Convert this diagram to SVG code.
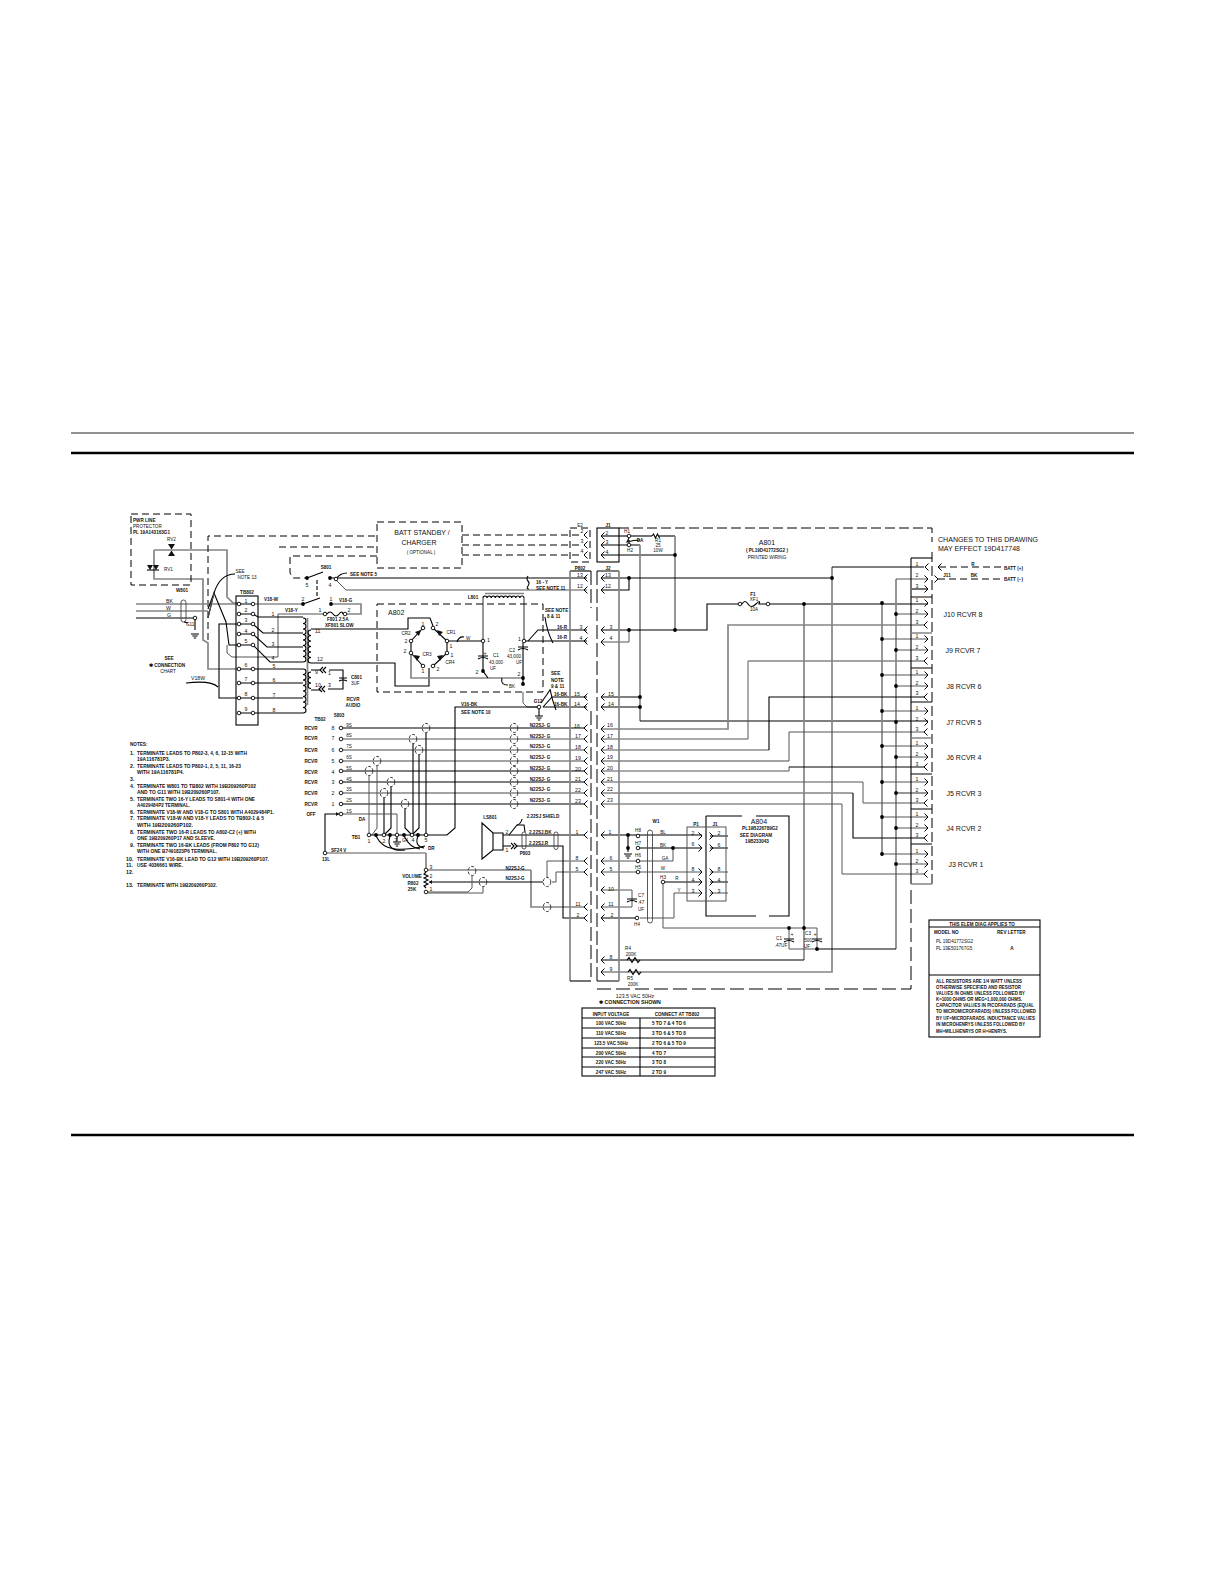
<svg xmlns="http://www.w3.org/2000/svg" width="1225" height="1585" viewBox="0 0 1225 1585">
<style>
text{font-family:"Liberation Sans",Arial,sans-serif;font-size:5.2px;fill:#111}
.m{text-anchor:middle}
.b{font-weight:700}
.s{font-size:4.6px}
.l{font-size:7px}
.n{font-size:5.2px}
.k{stroke:#000;stroke-width:1.1;fill:none}
.g{stroke:#858585;stroke-width:1.7;fill:none}
.h{stroke:#555;stroke-width:1;fill:none}
.d{stroke:#000;stroke-width:1;stroke-dasharray:7 4;fill:none}
.c{fill:#fff;stroke:#000;stroke-width:.9}
.o{fill:#000;stroke:none}
.e{fill:none;stroke:#222;stroke-width:.9;stroke-dasharray:3 1.6}
.w{fill:none;stroke:#444;stroke-width:.9}
.chev{fill:none;stroke:#000;stroke-width:1}
.f{fill:#111;stroke:none}
</style>
<defs>
<path id="cl" class="chev" d="M3.5 -3.5L0 0L3.5 3.5"/>
<path id="cr" class="chev" d="M-3.5 -3.5L0 0L-3.5 3.5"/>
<circle id="p" class="c" r="1.8"/>
<circle id="dot" class="o" r="1.9"/>
<g id="sh"><ellipse class="e" rx="3.8" ry="4.6"/></g>
<g id="gnd"><path class="k" d="M-4 0H4M-2.6 2H2.6M-1.2 4H1.2"/></g>
</defs>
<rect width="1225" height="1585" fill="#fff"/>
<g id="page-rules">
<line x1="71" y1="433" x2="1134" y2="433" stroke="#222" stroke-width="1"/>
<line x1="71" y1="453" x2="1134" y2="453" stroke="#000" stroke-width="2.6"/>
<line x1="71" y1="1135" x2="1134" y2="1135" stroke="#000" stroke-width="2.6"/>
</g>

<g id="connectors">
<path class="g" d="M154 550H227V597L233 603H239"/>
<path class="g" d="M154 550V579H203V640L208 643V669H238"/>
<path class="d" d="M208 640V536H377"/>
<path class="d" d="M279 547H377"/>
<path class="d" d="M377 556H290V573L293 578H307"/>
<path class="g" d="M136 604H239"/>
<path class="g" d="M136 611H208"/>
<path class="k" d="M136 618H195"/>
<path class="k" d="M195 618V630"/>
<path class="k" d="M208 609L214 593Q220 574 235 574"/>
<path class="k" d="M208 618L214 593L226 622L229 645H239"/>
<path class="h" d="M214 593L208 618M227 645V653L232 657H278V614H325"/>
<path class="k" d="M239 624H219V698H239"/>
<path class="k" d="M186 683Q211 680 218 687"/>
<path class="h" d="M253 604H303"/>
<path class="g" d="M331 604H361V614H345"/>
<path class="k" d="M253 614L258 617H303"/>
<path class="k" d="M253 624L263 633H303"/>
<path class="k" d="M253 634L267 647H303"/>
<path class="k" d="M253 645L270 662H303"/>
<path class="k" d="M253 669H303"/>
<path class="k" d="M253 683H303"/>
<path class="k" d="M253 698H303"/>
<path class="k" d="M253 713H303"/>
<path class="k" d="M311 629H408V618H430L433 626"/>
<path class="k" d="M311 663H395V686H429V668"/>
<path class="k" d="M311 670H321M329 670H343V689H328M311 690H320"/>
<path class="k" d="M336 578H587"/>
<path class="h" d="M336 580L346 590H587"/>
<path class="k" d="M336 579Q340 573 347 573"/>
<path class="d" d="M462 535H583"/>
<path class="d" d="M462 545H583"/>
<path class="d" d="M462 555H583"/>
<path class="g" d="M483 598V641"/>
<path class="g" d="M524 598V641"/>
<path class="g" d="M411 653V678H523"/>
<path class="k" d="M447 641H483"/>
<path class="k" d="M483 643V671L488 678"/>
<path class="k" d="M523 643V678"/>
<path class="k" d="M523 678V684"/>
<path class="h" d="M523 692V703L527 707H539"/>
<path class="k" d="M502 678Q500 685 508 685"/>
<path class="k" d="M523 641L532 641L587 641"/>
<path class="k" d="M528 641L538 630H587"/>
<path class="k" d="M545 617Q547 632 553 643"/>
<path class="k" d="M543 707L552 697H587"/>
<path class="k" d="M543 707H587"/>
<path class="k" d="M550 689Q552 700 556 710"/>
<path class="k" d="M541 703L550 690"/>
<path class="k" d="M601 536H629"/>
<path class="k" d="M601 545H640"/>
<path class="k" d="M601 555H675"/>
<path class="k" d="M631 536H652"/>
<path class="k" d="M659 536H675"/>
<path class="g" d="M675 536V630"/>
<path class="k" d="M629 538L627 542Q634 540 640 540M629 543V540"/>
<path class="g" d="M640 545V721"/>
<path class="k" d="M601 578H832"/>
<path class="k" d="M601 590H629V578"/>
<path class="k" d="M601 630H707V604H738"/>
<path class="h" d="M601 642H629V630"/>
<path class="k" d="M770 604H928"/>
<path class="k" d="M601 697H640"/>
<path class="k" d="M601 707H640"/>
<path class="k" d="M640 721H928"/>
<path class="g" d="M832 567V972H601"/>
<path class="k" d="M832 567H924"/>
<path class="g" d="M804 604V960"/>
<path class="g" d="M882 603V854"/>
<path class="g" d="M896 579V949"/>
<path class="k" d="M896 949H817"/>
<path class="h" d="M896 579H928"/>
<path class="g" d="M601 729H728V625H924"/>
<path class="h" d="M601 739H748V661"/>
<path class="g" d="M748 661H924"/>
<path class="h" d="M601 750H769"/>
<path class="k" d="M769 750V697H924"/>
<path class="g" d="M601 761H789"/>
<path class="h" d="M789 761V732H924"/>
<path class="h" d="M601 771H789V767"/>
<path class="k" d="M789 767H924"/>
<path class="h" d="M601 782H863V803H924"/>
<path class="g" d="M601 793H853"/>
<path class="k" d="M853 793V838H924"/>
<path class="h" d="M601 804H842V874H924"/>
<path class="h" d="M896 614H928M882 639H928M896 650H928M882 675H928M896 686H928M882 711H928M882 746H928M896 757H928M882 782H928M882 817H928M896 828H928M882 854H928M896 864H928"/>
<path class="g" d="M896 793H928"/>
<path class="k" d="M912 589H928"/>
<path class="d" d="M939 567H1002"/>
<path class="d" d="M938 579H1002"/>
<path class="k" d="M343 728H584"/>
<path class="h" d="M343 739H584"/>
<path class="g" d="M343 750H584"/>
<path class="g" d="M343 761H584"/>
<path class="k" d="M343 771H584"/>
<path class="k" d="M343 782H584"/>
<path class="g" d="M343 793H584"/>
<path class="k" d="M343 804H584"/>
<path class="k" d="M426 733V833"/>
<path class="k" d="M413 744V833"/>
<path class="k" d="M419 755V828L412 835"/>
<path class="h" d="M377 766V828L372 835"/>
<path class="h" d="M369 776V833"/>
<path class="k" d="M391 787V828L384 835"/>
<path class="k" d="M384 798V833"/>
<path class="k" d="M405 809V828L412 835"/>
<path class="h" d="M343 814H397V833"/>
<path class="k" d="M339 814H325V851"/>
<path class="k" d="M369 835H426"/>
<path class="k" d="M428 835H447L455 828V707H539"/>
<path class="k" d="M376 836Q382 848 395 849T425 846"/>
<path class="k" d="M390 836Q385 852 405 850"/>
<path class="k" d="M404 836Q410 848 420 849"/>
<path class="k" d="M418 836Q414 846 424 848"/>
<path class="h" d="M327 853H426"/>
<path class="g" d="M426 853V868"/>
<path class="g" d="M428 870H531"/>
<path class="g" d="M531 870V907H584"/>
<path class="k" d="M429 882H543"/>
<path class="h" d="M472 876V888L468 892H428"/>
<path class="h" d="M483 887V893H428"/>
<path class="h" d="M547 877V861H584"/>
<path class="h" d="M552 882H556V872H584"/>
<path class="k" d="M503 835H584"/>
<path class="k" d="M503 846H511M516 846H563V918H584"/>
<path class="k" d="M509 835L517 825H524L525 832"/>
<path class="k" d="M522 819Q521 824 517 825"/>
<path class="k" d="M601 835H702"/>
<path class="k" d="M628 835V852"/>
<path class="k" d="M638 848H702"/>
<path class="h" d="M601 861H673V848"/>
<path class="h" d="M601 872H702"/>
<path class="k" d="M665 882H702"/>
<path class="h" d="M663 884V928H804"/>
<path class="h" d="M702 893H674V918H640"/>
<path class="k" d="M601 918H636"/>
<path class="h" d="M601 890H632V907H601"/>
<path class="k" d="M710 836H728M710 848H728M710 882H728"/>
<path class="h" d="M710 872H728M710 893H728"/>
<path class="h" d="M789 928V949H817V928H804"/>
<path class="k" d="M601 960H804"/>
</g>

<g id="pwr-line-protector">
<rect class="d" x="131" y="514" width="60" height="71"/>
<text x="133" y="521.500" class="b s">PWR LINE</text>
<text x="133" y="527.500" class="s">PROTECTOR</text>
<text x="133" y="534" class="b s">PL 19A143163G1</text>
<text x="167" y="541" class="s">RV2</text>
<text x="164" y="571" class="s">RV1</text>
<path class="f" d="M168 544h7l-3.500 5.500zM168 556h7l-3.500 -5.500z"/>
<path class="f" d="M147 565h6l-3 5zM153 565h6l-3 5z"/>
<path class="k" d="M147 570H159"/>
</g>

<g id="w801">
<text x="176" y="592" class="b s">W801</text>
<text x="166" y="603">BK</text>
<text x="166" y="609.500">W</text>
<text x="167" y="616.500">G</text>
<rect x="181" y="600" width="5" height="22" rx="2.500" class="w"/>
<text x="186" y="625.500" class="s">G11</text>
<path class="k" d="M184 622L188 623"/>
<use href="#p" x="195" y="618"/>
<use href="#gnd" x="195" y="634"/>
<text x="240" y="572.500" class="m s">SEE</text>
<text x="247" y="579" class="m s">NOTE 13</text>
<text x="169" y="660" class="m s b">SEE</text>
<text x="167" y="667" class="m s b">✱ CONNECTION</text>
<text x="168" y="673" class="m s">CHART</text>
<text x="191" y="680">V18W</text>
</g>

<g id="tb802">
<rect x="236" y="596" width="22" height="129" class="k"/>
<text x="247" y="594" class="m b s">TB802</text>
<path class="k" d="M239 604h14M239 614h14M239 624h14M239 634h14M239 645h14M239 669h14M239 683h14M239 698h14M239 713h14"/>
<g><use href="#p" x="239" y="604"/><use href="#p" x="253" y="604"/><use href="#p" x="239" y="614"/><use href="#p" x="253" y="614"/><use href="#p" x="239" y="624"/><use href="#p" x="253" y="624"/><use href="#p" x="239" y="634"/><use href="#p" x="253" y="634"/><use href="#p" x="239" y="645"/><use href="#p" x="253" y="645"/><use href="#p" x="239" y="669"/><use href="#p" x="253" y="669"/><use href="#p" x="239" y="683"/><use href="#p" x="253" y="683"/><use href="#p" x="239" y="698"/><use href="#p" x="253" y="698"/><use href="#p" x="239" y="713"/><use href="#p" x="253" y="713"/></g>
<text x="246" y="603" class="m">1</text><text x="246" y="612" class="m">2</text><text x="246" y="622" class="m">3</text><text x="246" y="633" class="m">4</text><text x="246" y="643" class="m">5</text><text x="246" y="667" class="m">6</text><text x="246" y="681" class="m">7</text><text x="246" y="696" class="m">8</text><text x="246" y="711" class="m">9</text>
<text x="264" y="600.500" class="b s">V18-W</text>
<text x="285" y="611.500" class="b s">V18-Y</text>
<text x="273" y="616" class="m">1</text><text x="273" y="632" class="m">2</text><text x="273" y="646" class="m">3</text><text x="273" y="660" class="m">4</text><text x="274" y="668" class="m">5</text><text x="274" y="682" class="m">6</text><text x="274" y="697" class="m">7</text><text x="274" y="712" class="m">8</text>
</g>

<g id="t801">
<path class="k" d="M303 618a3 2.750 0 0 1 0 5.500a3 2.750 0 0 1 0 5.500a3 2.750 0 0 1 0 5.500a3 2.750 0 0 1 0 5.500a3 2.750 0 0 1 0 5.500a3 2.750 0 0 1 0 5.500a3 2.750 0 0 1 0 5.500a3 2.750 0 0 1 0 5.500"/>
<path class="k" d="M303 669a3 2.750 0 0 1 0 5.500a3 2.750 0 0 1 0 5.500a3 2.750 0 0 1 0 5.500a3 2.750 0 0 1 0 5.500a3 2.750 0 0 1 0 5.500a3 2.750 0 0 1 0 5.500a3 2.750 0 0 1 0 5.500a3 2.750 0 0 1 0 5.500"/>
<path class="g" d="M307.500 618V705"/>
<path class="k" d="M311 630a3 2.750 0 0 0 0 5.500a3 2.750 0 0 0 0 5.500a3 2.750 0 0 0 0 5.500a3 2.750 0 0 0 0 5.500a3 2.750 0 0 0 0 5.500a3 2.750 0 0 0 0 5.500"/>
<path class="k" d="M311 672a3 2.750 0 0 0 0 5.500a3 2.750 0 0 0 0 5.500a3 2.750 0 0 0 0 5.500"/>
<text x="315" y="633">11</text><text x="317" y="661">12</text><text x="315" y="674">9</text><text x="315" y="687">10</text>
<text x="328" y="675">1</text><text x="328" y="687">3</text>
<path class="k" d="M323 667l-3 3 3 3M326 667l-3 3 3 3M322 686l-3 3 3 3M325 686l-3 3 3 3"/>
<path class="k" d="M339 678H347M339 681Q343 679 347 681"/>
<text x="351" y="679" class="s b">C801</text><text x="351" y="685" class="s">3UF</text>
<text x="353" y="701" class="m s b">RCVR</text><text x="353" y="707" class="m s b">AUDIO</text>
</g>

<g id="s801">
<use href="#dot" x="307" y="578"/><use href="#dot" x="330" y="578"/>
<path class="k" d="M307 578L323 572M330 578H336"/>
<path class="k" d="M317 580V597" stroke-dasharray="4 2"/>
<use href="#dot" x="303" y="604"/><use href="#dot" x="331" y="604"/>
<path class="k" d="M303 604L320 598"/>
<use href="#p" x="336" y="579"/>
<text x="326" y="569" class="m b s">S801</text>
<text x="307" y="586.500" class="m">5</text><text x="330" y="586.500" class="m">4</text><text x="303" y="600.500" class="m">2</text><text x="331" y="600.500" class="m">1</text>
<text x="350" y="575.500" class="b s">SEE NOTE 5</text>
<text x="339" y="602" class="b s">V18-G</text>
<use href="#p" x="325" y="614"/><use href="#p" x="345" y="614"/>
<path class="k" d="M327 614q3 -4 6 0t6 0 4 0"/>
<text x="320" y="611.500" class="m">1</text><text x="349" y="611.500" class="m">2</text>
<text x="327" y="620.500" class="s b">F801 2.5A</text>
<text x="325" y="627" class="s b">XF801 SLOW</text>
</g>

<g id="batt-standby">
<rect class="d" x="377" y="522" width="85" height="46"/>
<text x="422" y="535" class="m l">BATT  STANDBY /</text>
<text x="419" y="544.500" class="m l">CHARGER</text>
<text x="421" y="553.500" class="m s">( OPTIONAL )</text>
</g>

<g id="a802">
<rect class="d" x="377" y="604" width="166" height="88"/>
<text x="388" y="614.500" class="l">A802</text>
<path class="k" d="M433 628L447 641V653L433 666M423 666L411 653V641L423 628"/>
<use href="#p" x="423" y="628"/><use href="#p" x="433" y="628"/><use href="#p" x="447" y="641"/><use href="#p" x="447" y="653"/><use href="#p" x="433" y="666"/><use href="#p" x="423" y="666"/><use href="#p" x="411" y="653"/><use href="#p" x="411" y="641"/>
<path class="f" d="M437 630l6 2-4 4zM421 630l-6 2 4 4zM414 655l6 1-3 5zM443 655l-6 1 3 5z"/>
<text x="406" y="635" class="m s">CR2</text><text x="451" y="634" class="m s">CR1</text><text x="427" y="656" class="m s">CR3</text><text x="450" y="664" class="m s">CR4</text>
<text x="423" y="626" class="m">1</text><text x="437" y="626" class="m">2</text><text x="406" y="642.500" class="m">2</text><text x="451" y="648" class="m">1</text><text x="405" y="653" class="m">2</text><text x="452" y="657" class="m">1</text><text x="423" y="673" class="m">1</text><text x="438" y="670.500" class="m">2</text>
<use href="#p" x="483" y="641"/><use href="#p" x="524" y="641"/>
<text x="487" y="642">1</text><text x="518" y="641">1</text>
<text x="466" y="640" class="s">W</text>
<path class="k" d="M457 642Q459 636 464 637"/>
<path class="k" d="M478 656H488M478 659Q483 656 488 659"/>
<text x="485" y="655" class="m">+</text>
<text x="493" y="657" class="s">C1</text><text x="489" y="663.500" class="s">43,000</text><text x="490" y="670" class="s">UF</text>
<use href="#dot" x="483" y="671"/><text x="477" y="674" class="m">2</text>
<path class="k" d="M518 647H528M518 650Q523 647 528 650"/>
<text x="512" y="652" class="m s">C2</text><text x="514" y="657.500" class="m s">43,000</text><text x="519" y="663.500" class="m s">UF</text>
<text x="519" y="676" class="m">2</text>
<use href="#dot" x="523" y="678"/><use href="#dot" x="523" y="684"/>
<text x="509" y="687.500" class="s">BK</text>
<text x="473" y="598.500" class="m s b">L801</text>
<path class="k" d="M483 598a2.050 2.050 0 0 1 4.100 0a2.050 2.050 0 0 1 4.100 0a2.050 2.050 0 0 1 4.100 0a2.050 2.050 0 0 1 4.100 0a2.050 2.050 0 0 1 4.100 0a2.050 2.050 0 0 1 4.100 0a2.050 2.050 0 0 1 4.100 0a2.050 2.050 0 0 1 4.100 0a2.050 2.050 0 0 1 4.100 0a2.050 2.050 0 0 1 4.100 0"/>
<path class="g" d="M485 593.500H524"/>
</g>

<g id="wire-labels">
<path class="k" d="M528 576q-2 3 0 5t0 5 1 3"/>
<text x="536" y="583.500" class="s b">16 - Y</text>
<text x="536" y="589.500" class="s b">SEE NOTE 11</text>
<text x="545" y="611.500" class="s b">SEE NOTE</text>
<text x="547" y="617.500" class="s b">8 &amp; 11</text>
<text x="557" y="629" class="s b">16-R</text>
<text x="557" y="639" class="s b">16-R</text>
<text x="551" y="675" class="s b">SEE</text><text x="551" y="681.500" class="s b">NOTE</text><text x="551" y="688" class="s b">9 &amp; 11</text>
<text x="554" y="695.500" class="s b">16-BK</text>
<text x="554" y="705.500" class="s b">16-BK</text>
<text x="461" y="705.500" class="s b">V16-BK</text>
<text x="461" y="713.500" class="s b">SEE NOTE 10</text>
<text x="538" y="703" class="m s b">G12</text>
<use href="#p" x="539" y="707"/>
<path class="k" d="M539 709V716"/>
<use href="#gnd" x="539" y="716"/>
</g>

<g id="e2">
<rect class="d" x="570" y="528" width="20" height="34"/>
<text x="580" y="527" class="m s">E2</text>
<use href="#cl" x="584" y="535"/><use href="#cl" x="584" y="545"/><use href="#cl" x="584" y="555"/>
<text x="582" y="533" class="m">2</text><text x="582" y="543" class="m">3</text><text x="582" y="553" class="m">4</text>
</g>

<g id="p802">
<path class="k" d="M570 571H591"/>
<path class="g" d="M570 571V981"/>
<path class="k" d="M570 981H591"/>
<path class="d" d="M591 571V608M591 711V981" style="stroke-dasharray:14 4"/>
<text x="580" y="569.500" class="m s b">P802</text>
<g>
<use href="#cl" x="584" y="578"/><use href="#cl" x="584" y="590"/><use href="#cl" x="584" y="630"/><use href="#cl" x="584" y="641"/><use href="#cl" x="584" y="697"/><use href="#cl" x="584" y="707"/><use href="#cl" x="584" y="728"/><use href="#cl" x="584" y="739"/><use href="#cl" x="584" y="750"/><use href="#cl" x="584" y="761"/><use href="#cl" x="584" y="771"/><use href="#cl" x="584" y="782"/><use href="#cl" x="584" y="793"/><use href="#cl" x="584" y="804"/><use href="#cl" x="584" y="835"/><use href="#cl" x="584" y="861"/><use href="#cl" x="584" y="872"/><use href="#cl" x="584" y="907"/><use href="#cl" x="584" y="918"/>
</g>
<text x="580" y="577" class="m">13</text><text x="580" y="588" class="m">12</text><text x="581" y="629" class="m">3</text><text x="581" y="640" class="m">4</text><text x="577" y="695.500" class="m">15</text><text x="577" y="705.500" class="m">14</text><text x="577" y="728" class="m">16</text><text x="578" y="738" class="m">17</text><text x="578" y="749" class="m">18</text><text x="578" y="760" class="m">19</text><text x="578" y="771" class="m">20</text><text x="578" y="781" class="m">21</text><text x="578" y="792" class="m">22</text><text x="578" y="803" class="m">23</text><text x="577" y="834" class="m">1</text><text x="577" y="860" class="m">8</text><text x="577" y="871" class="m">5</text><text x="578" y="906" class="m">11</text><text x="578" y="917" class="m">2</text>
</g>

<g id="j1">
<rect x="597" y="528" width="22" height="34" class="k"/>
<text x="608" y="527" class="m s b">J1</text>
<use href="#cl" x="601" y="536"/><use href="#cl" x="601" y="545"/><use href="#cl" x="601" y="555"/>
<text x="607" y="535" class="m">2</text><text x="607" y="544" class="m">3</text><text x="607" y="554" class="m">4</text>
<use href="#p" x="629" y="536"/><use href="#p" x="629" y="545"/>
<text x="627" y="533" class="m s">H1</text><text x="630" y="551.500" class="m s">H2</text><text x="640" y="542" class="m s b">DA</text>
<path class="k" d="M652 536l1.500 -2 2 4 2 -4 2 4"/>
<text x="658" y="542" class="m s">R1</text><text x="658" y="547" class="m s">25</text><text x="658" y="552" class="m s">10W</text>
</g>

<g id="j2">
<path class="k" d="M597 571H619M597 981H619"/>
<path class="g" d="M619 571V981"/>
<path class="d" d="M597 571V981" style="stroke-dasharray:14 4"/>
<text x="608" y="569.500" class="m s b">J2</text>
<g>
<use href="#cl" x="601" y="578"/><use href="#cl" x="601" y="590"/><use href="#cl" x="601" y="630"/><use href="#cl" x="601" y="642"/><use href="#cl" x="601" y="697"/><use href="#cl" x="601" y="707"/><use href="#cl" x="601" y="729"/><use href="#cl" x="601" y="739"/><use href="#cl" x="601" y="750"/><use href="#cl" x="601" y="761"/><use href="#cl" x="601" y="771"/><use href="#cl" x="601" y="782"/><use href="#cl" x="601" y="793"/><use href="#cl" x="601" y="804"/><use href="#cl" x="601" y="835"/><use href="#cl" x="601" y="861"/><use href="#cl" x="601" y="872"/><use href="#cl" x="601" y="890"/><use href="#cl" x="601" y="907"/><use href="#cl" x="601" y="918"/><use href="#cl" x="601" y="960"/><use href="#cl" x="601" y="972"/>
</g>
<g>
<text x="608" y="577" class="m">13</text><text x="608" y="588" class="m">12</text><text x="611" y="629" class="m">3</text><text x="611" y="640" class="m">4</text><text x="611" y="695.500" class="m">15</text><text x="611" y="705.500" class="m">14</text><text x="610" y="727" class="m">16</text><text x="610" y="738" class="m">17</text><text x="610" y="749" class="m">18</text><text x="610" y="759" class="m">19</text><text x="610" y="770" class="m">20</text><text x="610" y="781" class="m">21</text><text x="610" y="791" class="m">22</text><text x="610" y="802" class="m">23</text><text x="610" y="834" class="m">1</text><text x="611" y="860" class="m">6</text><text x="611" y="871" class="m">5</text><text x="611" y="891" class="m">10</text><text x="611" y="906" class="m">11</text><text x="612" y="917" class="m">2</text><text x="611" y="959" class="m">8</text><text x="611" y="971" class="m">9</text>
</g>
<g><use href="#dot" x="629" y="578"/><use href="#dot" x="629" y="630"/><use href="#dot" x="675" y="555"/><use href="#dot" x="675" y="630"/><use href="#dot" x="640" y="697"/><use href="#dot" x="640" y="707"/><use href="#dot" x="832" y="578"/><use href="#dot" x="804" y="604"/></g>
</g>

<g id="a801-boundary">
<path class="d" d="M619 528H932V542M932 552V884" style="stroke-dasharray:10 4"/>
<path class="d" d="M597 989H911V887" style="stroke-dasharray:14 5"/>
<text x="767" y="544.500" class="m l">A801</text>
<text x="767" y="552" class="m s b">( PL19D41772SG2 )</text>
<text x="767" y="559" class="m s">PRINTED WIRING</text>
</g>

<g id="f1">
<use href="#p" x="740" y="604"/><use href="#p" x="768" y="604"/>
<path class="k" d="M742 604q3 -5 6 0t8 0 3 0h7"/>
<text x="753" y="596" class="m s b">F1</text><text x="754" y="601" class="m s">XF1</text><text x="754" y="611" class="m s">10A</text>
</g>

<g id="connector-column">
<path class="k" d="M911 558V884"/>
<path class="k" d="M911 558H932"/>
<path class="k" d="M911 597H932M911 668H932M911 702H932M911 774H932M911 809H932M911 844H932"/>
<path class="g" d="M911 633H932M911 738H932M911 884H932"/>
<g>
<use href="#cl" x="925" y="567"/><use href="#cr" x="928" y="579"/><use href="#cr" x="928" y="589"/>
<use href="#cr" x="928" y="603"/><use href="#cr" x="928" y="614"/><use href="#cl" x="924" y="625"/>
<use href="#cr" x="928" y="639"/><use href="#cr" x="928" y="650"/><use href="#cl" x="924" y="661"/>
<use href="#cr" x="928" y="675"/><use href="#cr" x="928" y="686"/><use href="#cl" x="924" y="697"/>
<use href="#cr" x="928" y="711"/><use href="#cr" x="928" y="722"/><use href="#cl" x="924" y="732"/>
<use href="#cr" x="928" y="746"/><use href="#cr" x="928" y="757"/><use href="#cl" x="924" y="767"/>
<use href="#cr" x="928" y="782"/><use href="#cr" x="928" y="793"/><use href="#cl" x="924" y="803"/>
<use href="#cr" x="928" y="817"/><use href="#cr" x="928" y="828"/><use href="#cl" x="924" y="838"/>
<use href="#cr" x="928" y="854"/><use href="#cr" x="928" y="864"/><use href="#cl" x="924" y="874"/>
</g>
<g>
<text x="917" y="566" class="m">1</text><text x="917" y="577" class="m">2</text><text x="917" y="588" class="m">3</text>
<text x="917" y="602" class="m">1</text><text x="917" y="613" class="m">2</text><text x="917" y="624" class="m">3</text>
<text x="917" y="638" class="m">1</text><text x="917" y="649" class="m">2</text><text x="917" y="660" class="m">3</text>
<text x="917" y="674" class="m">1</text><text x="917" y="685" class="m">2</text><text x="917" y="695" class="m">3</text>
<text x="917" y="710" class="m">1</text><text x="917" y="721" class="m">2</text><text x="917" y="731" class="m">3</text>
<text x="917" y="745" class="m">1</text><text x="917" y="756" class="m">2</text><text x="917" y="766" class="m">3</text>
<text x="917" y="781" class="m">1</text><text x="917" y="792" class="m">2</text><text x="917" y="802" class="m">3</text>
<text x="917" y="816" class="m">1</text><text x="917" y="827" class="m">2</text><text x="917" y="837" class="m">3</text>
<text x="917" y="853" class="m">1</text><text x="917" y="863" class="m">2</text><text x="917" y="873" class="m">3</text>
</g>
<g>
<use href="#dot" x="882" y="603"/><use href="#dot" x="896" y="614"/><use href="#dot" x="882" y="639"/><use href="#dot" x="896" y="650"/><use href="#dot" x="882" y="675"/><use href="#dot" x="896" y="686"/><use href="#dot" x="882" y="711"/><use href="#dot" x="896" y="722"/><use href="#dot" x="882" y="746"/><use href="#dot" x="896" y="757"/><use href="#dot" x="882" y="782"/><use href="#dot" x="896" y="793"/><use href="#dot" x="882" y="817"/><use href="#dot" x="896" y="828"/><use href="#dot" x="882" y="854"/><use href="#dot" x="896" y="864"/>
</g>
<text x="963" y="617" class="m l">J10  RCVR  8</text>
<text x="963" y="653" class="m l">J9  RCVR  7</text>
<text x="964" y="689" class="m l">J8  RCVR  6</text>
<text x="964" y="725" class="m l">J7  RCVR  5</text>
<text x="964" y="759.500" class="m l">J6  RCVR  4</text>
<text x="964" y="796" class="m l">J5  RCVR  3</text>
<text x="964" y="831" class="m l">J4  RCVR  2</text>
<text x="966" y="867" class="m l">J3  RCVR  1</text>
<use href="#cl" x="938" y="567"/><use href="#cr" x="938" y="579"/>
<text x="973" y="566" class="m s b">R</text>
<text x="947" y="577" class="m s b">J11</text><text x="974" y="577" class="m s b">BK</text>
<text x="1004" y="569.500" class="s b">BATT (+)</text>
<text x="1004" y="580.500" class="s b">BATT (−)</text>
<text x="938" y="541.500" class="l" textLength="100" lengthAdjust="spacingAndGlyphs">CHANGES TO THIS DRAWING</text>
<text x="938" y="551" class="l" textLength="82" lengthAdjust="spacingAndGlyphs">MAY EFFECT 19D417748</text>
</g>

<g id="receiver-switch">
<text x="339" y="716.500" class="m s b">S803</text><text x="320" y="721" class="m s b">TB02</text>
<g>
<text x="311" y="730" class="m b s">RCVR</text><text x="311" y="740" class="m b s">RCVR</text><text x="311" y="752" class="m b s">RCVR</text><text x="311" y="763" class="m b s">RCVR</text><text x="311" y="774" class="m b s">RCVR</text><text x="311" y="784" class="m b s">RCVR</text><text x="311" y="795" class="m b s">RCVR</text><text x="311" y="806" class="m b s">RCVR</text><text x="311" y="816" class="m b s">OFF</text>
<text x="333" y="730" class="m">8</text><text x="333" y="740" class="m">7</text><text x="333" y="752" class="m">6</text><text x="333" y="763" class="m">5</text><text x="333" y="774" class="m">4</text><text x="333" y="784" class="m">3</text><text x="333" y="795" class="m">2</text><text x="333" y="806" class="m">1</text>
<text x="349" y="727" class="m s">9S</text><text x="349" y="737" class="m s">8S</text><text x="349" y="748" class="m s">7S</text><text x="349" y="759" class="m s">6S</text><text x="349" y="770" class="m s">5S</text><text x="349" y="781" class="m s">4S</text><text x="349" y="791" class="m s">3S</text><text x="349" y="802" class="m s">2S</text><text x="349" y="812.500" class="m s">1S</text>
</g>
<use href="#p" x="341" y="728"/><use href="#p" x="341" y="739"/><use href="#p" x="341" y="750"/><use href="#p" x="341" y="761"/><use href="#p" x="341" y="771"/><use href="#p" x="341" y="782"/><use href="#p" x="341" y="793"/><use href="#p" x="341" y="804"/><use href="#p" x="341" y="814"/>
<path class="f" d="M336 812l3 2-3 2z"/>
<g id="shields">
<use href="#sh" x="426" y="728"/><use href="#sh" x="413" y="739"/><use href="#sh" x="419" y="750"/><use href="#sh" x="377" y="761"/><use href="#sh" x="369" y="771"/><use href="#sh" x="391" y="782"/><use href="#sh" x="384" y="793"/><use href="#sh" x="405" y="804"/>
<use href="#sh" x="514" y="728"/><use href="#sh" x="514" y="739"/><use href="#sh" x="514" y="750"/><use href="#sh" x="514" y="761"/><use href="#sh" x="514" y="771"/><use href="#sh" x="514" y="782"/><use href="#sh" x="514" y="793"/><use href="#sh" x="514" y="804"/>
<use href="#sh" x="472" y="871"/><use href="#sh" x="483" y="882"/><use href="#sh" x="547" y="882"/><use href="#sh" x="547" y="907"/>
</g>
<g>
<text x="540" y="727" class="m s b">N22SJ- G</text><text x="540" y="738" class="m s b">N22SJ- G</text><text x="540" y="748" class="m s b">N22SJ- G</text><text x="540" y="759" class="m s b">N22SJ- G</text><text x="540" y="770" class="m s b">N22SJ- G</text><text x="540" y="781" class="m s b">N22SJ- G</text><text x="540" y="791" class="m s b">N22SJ- G</text><text x="540" y="802" class="m s b">N22SJ- G</text>
</g>
</g>

<g id="tb1">
<use href="#p" x="369" y="835"/><use href="#p" x="384" y="835"/><use href="#p" x="397" y="835"/><use href="#p" x="412" y="835"/><use href="#p" x="426" y="835"/>
<use href="#dot" x="376" y="835"/><use href="#dot" x="390" y="835"/><use href="#dot" x="404" y="835"/><use href="#dot" x="418" y="835"/>
<text x="356" y="838.500" class="m s b">TB1</text>
<text x="369" y="842.500" class="m">1</text><text x="384" y="842.500" class="m">2</text><text x="396" y="842" class="m">3</text><text x="413" y="842" class="m">4</text><text x="426" y="842" class="m">5</text>
<text x="402" y="842" class="s">G4</text>
<path class="k" d="M397 837V841"/><use href="#gnd" x="397" y="842"/>
<text x="362" y="821" class="m s b">DA</text>
<text x="428" y="850" class="s b">DR</text>
<use href="#p" x="325" y="853"/>
<text x="326" y="861" class="m s b">13L</text>
<text x="331" y="852" class="s b">SF24 V</text>
</g>

<g id="r802">
<use href="#p" x="426" y="870"/><use href="#p" x="426" y="892"/>
<path class="k" d="M426 872l-2 2 4 2 -4 2 4 2 -4 2 4 2 -4 2 2 2"/>
<path class="f" d="M429 882l3 -2v4z"/>
<text x="431" y="868.500" class="m">3</text><text x="431" y="878" class="m">2</text><text x="431" y="891" class="m">1</text>
<text x="412" y="878" class="m s b">VOLUME</text><text x="413" y="884.500" class="m s b">R802</text><text x="412" y="891" class="m s b">25K</text>
<text x="515" y="870" class="m s b">N22SJ-G</text><text x="515" y="880" class="m s b">N22SJ-G</text>
</g>

<g id="ls801">
<path class="k" d="M482 823L493 833H503V850H493L482 859Z"/>
<path class="k" d="M493 833V850"/>
<text x="490" y="818.500" class="m s b">LS801</text>
<text x="507" y="834" class="m">2</text><text x="507" y="852" class="m">1</text>
<path class="k" d="M511 843l3 3-3 3M514 843l3 3-3 3"/>
<rect x="522" y="832" width="4" height="17" rx="2" class="w"/>
<rect x="554" y="832" width="4" height="17.500" rx="2" class="w"/>
<text x="543" y="818" class="m s b">2.22SJ SHIELD</text>
<text x="529" y="834" class="s b">2.22SJ.BK</text>
<text x="529" y="844.500" class="s b">2.22SJ.R</text>
<text x="525" y="854.500" class="m s b">P803</text>
</g>

<g id="a804">
<path class="k" d="M706 816H742M756 816H789V916H769M756 916H706V816"/>
<rect x="687" y="827" width="39" height="74" class="h"/>
<text x="696" y="826" class="m s b">P1</text><text x="715" y="826" class="m s b">J1</text>
<text x="759" y="824" class="m l">A804</text>
<text x="760" y="830" class="m s b">PL19B226789G2</text>
<text x="756" y="837" class="m s b">SEE DIAGRAM</text>
<text x="757" y="843" class="m s b">19B233043</text>
<g>
<use href="#cr" x="702" y="836"/><use href="#cr" x="702" y="848"/><use href="#cr" x="702" y="872"/><use href="#cr" x="702" y="882"/><use href="#cr" x="702" y="893"/>
<use href="#cr" x="713" y="836"/><use href="#cr" x="713" y="848"/><use href="#cr" x="713" y="872"/><use href="#cr" x="713" y="882"/><use href="#cr" x="713" y="893"/>
</g>
<text x="693" y="835" class="m">2</text><text x="693" y="846" class="m">6</text><text x="693" y="871" class="m">8</text><text x="693" y="882" class="m">4</text><text x="693" y="893" class="m">3</text>
<text x="719" y="835" class="m">2</text><text x="719" y="847" class="m">6</text><text x="719" y="871" class="m">8</text><text x="719" y="882" class="m">4</text><text x="719" y="893" class="m">3</text>
<rect x="647.500" y="830" width="5" height="93" rx="2.500" class="w"/>
<text x="656" y="823" class="m s b">W1</text>
<use href="#p" x="638" y="836"/><use href="#p" x="638" y="848"/><use href="#p" x="638" y="861"/><use href="#p" x="638" y="872"/><use href="#p" x="663" y="882"/><use href="#p" x="637" y="918"/>
<text x="638" y="832" class="m s">H8</text><text x="638" y="844.500" class="m s">H7</text><text x="638" y="857" class="m s">H6</text><text x="638" y="868.500" class="m s">H5</text><text x="663" y="879" class="m s">H3</text><text x="637" y="925.500" class="m s">H4</text>
<text x="663" y="834" class="m s">BL</text><text x="663" y="847" class="m s">BK</text><text x="665" y="860" class="m s">GA</text><text x="663" y="870" class="m s">W</text><text x="677" y="880" class="m s">R</text><text x="679" y="891.500" class="m s">Y</text>
<use href="#dot" x="628" y="835"/><use href="#dot" x="628" y="848"/><use href="#dot" x="673" y="848"/>
<use href="#gnd" x="628" y="854"/>
<path class="k" d="M627 899H637M627 902Q632 899 637 902"/>
<text x="641" y="897" class="m s">C7</text><text x="641" y="904" class="m s">.47</text><text x="641" y="910.500" class="m s">UF</text>
<use href="#dot" x="789" y="928"/><use href="#dot" x="804" y="928"/><use href="#dot" x="817" y="949"/>
<path class="k" d="M784 939H794M784 942Q789 939 794 942"/>
<path class="k" d="M812 939H822M812 942Q817 939 822 942"/>
<text x="792" y="936" class="m">+</text><text x="815" y="936" class="m">+</text>
<text x="779" y="940" class="m s">C1</text><text x="781" y="947" class="m s">.47UF</text><text x="808" y="935" class="m s">C3</text><text x="808" y="942" class="m s">500</text><text x="807" y="948" class="m s">UF</text>
<path class="k" d="M627 960l2 -2.500 3 5 3 -5 3 5 2 -2.500"/>
<path class="k" d="M628 972l2 -2.500 3 5 3 -5 3 5 2 -2.500"/>
<text x="628" y="950" class="m s">R4</text><text x="631" y="956" class="m s">200K</text>
<text x="630" y="980" class="m s">R5</text><text x="633" y="986" class="m s">200K</text>
</g>

<g id="voltage-table">
<text x="635" y="998" class="m n">123.5   VAC   50Hz</text>
<text x="630" y="1004" class="m n b">✱  CONNECTION SHOWN</text>
<rect x="582" y="1008" width="133" height="68" class="k"/>
<path class="k" d="M582 1018H715"/>
<path class="k" d="M582 1028H715M582 1038H715M582 1048H715M582 1057H715M582 1067H715"/>
<path class="k" d="M640 1018V1076"/>
<text x="611" y="1015.500" class="m s b">INPUT VOLTAGE</text><text x="677" y="1015.500" class="m s b">CONNECT AT TB802</text>
<text x="611" y="1025" class="m s b">100    VAC  50Hz</text><text x="652" y="1025" class="s b">5 TO 7 &amp; 4 TO 6</text>
<text x="611" y="1035" class="m s b">110    VAC  50Hz</text><text x="652" y="1035" class="s b">3 TO 6 &amp; 5 TO 8</text>
<text x="611" y="1045" class="m s b">123.5  VAC  50Hz</text><text x="652" y="1045" class="s b">2 TO 6 &amp; 5 TO 9</text>
<text x="611" y="1054.500" class="m s b">200    VAC  50Hz</text><text x="652" y="1054.500" class="s b">4 TO 7</text>
<text x="611" y="1064" class="m s b">220    VAC  50Hz</text><text x="652" y="1064" class="s b">3 TO 8</text>
<text x="611" y="1074" class="m s b">247    VAC  50Hz</text><text x="652" y="1074" class="s b">2 TO 9</text>
</g>

<g id="applicability">
<rect x="929" y="920" width="111" height="117" class="k"/>
<path class="k" d="M929 927H1040M929 975H1040"/>
<text x="982" y="925.500" class="m s b">THIS ELEM DIAG APPLIES TO</text>
<text x="934" y="933.500" class="s b">MODEL NO</text><text x="997" y="933.500" class="s b">REV LETTER</text>
<text x="936" y="942.500" class="s">PL 19D41772SG2</text><text x="936" y="949.500" class="s">PL 19E501767G5</text>
<text x="1012" y="949.500" class="m s b">A</text>
<text x="936" y="982.500" class="s b" textLength="86" lengthAdjust="spacingAndGlyphs">ALL RESISTORS ARE 1/4 WATT UNLESS</text>
<text x="936" y="988.500" class="s b" textLength="85" lengthAdjust="spacingAndGlyphs">OTHERWISE SPECIFIED AND RESISTOR</text>
<text x="936" y="994.500" class="s b" textLength="89" lengthAdjust="spacingAndGlyphs">VALUES IN OHMS UNLESS FOLLOWED BY</text>
<text x="936" y="1000.500" class="s b" textLength="86" lengthAdjust="spacingAndGlyphs">K=1000 OHMS OR MEG=1,000,000 OHMS.</text>
<text x="936" y="1006.500" class="s b" textLength="98" lengthAdjust="spacingAndGlyphs">CAPACITOR VALUES IN PICOFARADS (EQUAL</text>
<text x="936" y="1013" class="s b" textLength="100" lengthAdjust="spacingAndGlyphs">TO MICROMICROFARADS) UNLESS FOLLOWED</text>
<text x="936" y="1019.500" class="s b" textLength="99" lengthAdjust="spacingAndGlyphs">BY UF=MICROFARADS.  INDUCTANCE VALUES</text>
<text x="936" y="1026" class="s b" textLength="89" lengthAdjust="spacingAndGlyphs">IN MICROHENRYS UNLESS FOLLOWED BY</text>
<text x="936" y="1033" class="s b" textLength="71" lengthAdjust="spacingAndGlyphs">MH=MILLIHENRYS OR H=HENRYS.</text>
</g>

<g id="notes">
<text x="130" y="746" class="b s">NOTES:</text>
<text x="130" y="754.700" class="b">1.</text><text x="137" y="754.700" class="n b" textLength="110" lengthAdjust="spacingAndGlyphs">TERMINATE LEADS TO P802-3, 4, 6, 12-15 WITH</text>
<text x="137" y="761" class="n b" textLength="33" lengthAdjust="spacingAndGlyphs">19A116781P3.</text>
<text x="130" y="768" class="b">2.</text><text x="137" y="768" class="n b" textLength="104" lengthAdjust="spacingAndGlyphs">TERMINATE LEADS TO P802-1, 2, 5, 11, 16-23</text>
<text x="137" y="774" class="n b" textLength="47" lengthAdjust="spacingAndGlyphs">WITH 19A116781P4.</text>
<text x="130" y="781" class="b">3.</text>
<text x="130" y="788" class="b">4.</text><text x="137" y="788" class="n b" textLength="119" lengthAdjust="spacingAndGlyphs">TERMINATE W801 TO TB802 WITH 19B209260P102</text>
<text x="137" y="794" class="n b" textLength="83" lengthAdjust="spacingAndGlyphs">AND TO G11 WITH 19B209260P107.</text>
<text x="130" y="801" class="b">5.</text><text x="137" y="801" class="n b" textLength="118" lengthAdjust="spacingAndGlyphs">TERMINATE TWO 16-Y LEADS TO S801-4 WITH ONE</text>
<text x="137" y="807" class="n b" textLength="53" lengthAdjust="spacingAndGlyphs">A4029484P2 TERMINAL.</text>
<text x="130" y="814" class="b">6.</text><text x="137" y="814" class="n b" textLength="137" lengthAdjust="spacingAndGlyphs">TERMINATE V18-W AND V18-G TO S801 WITH A4029484P1.</text>
<text x="130" y="820" class="b">7.</text><text x="137" y="820" class="n b" textLength="127" lengthAdjust="spacingAndGlyphs">TERMINATE V18-W AND V18-Y LEADS TO TB802-1 &amp; 5</text>
<text x="137" y="827" class="n b" textLength="56" lengthAdjust="spacingAndGlyphs">WITH 19B209260P102.</text>
<text x="130" y="834" class="b">8.</text><text x="137" y="834" class="n b" textLength="119" lengthAdjust="spacingAndGlyphs">TERMINATE TWO 16-R LEADS TO A802-C2 (+) WITH</text>
<text x="137" y="840" class="n b" textLength="78" lengthAdjust="spacingAndGlyphs">ONE 19B209260P17 AND SLEEVE.</text>
<text x="130" y="847" class="b">9.</text><text x="137" y="847" class="n b" textLength="122" lengthAdjust="spacingAndGlyphs">TERMINATE TWO 16-BK LEADS (FROM P802 TO G12)</text>
<text x="137" y="853" class="n b" textLength="80" lengthAdjust="spacingAndGlyphs">WITH ONE B7491823P6 TERMINAL.</text>
<text x="126" y="861" class="b">10.</text><text x="137" y="861" class="n b" textLength="132" lengthAdjust="spacingAndGlyphs">TERMINATE  V16-BK LEAD TO G12 WITH 19B209260P107.</text>
<text x="126" y="867" class="b">11.</text><text x="137" y="867" class="n b" textLength="46" lengthAdjust="spacingAndGlyphs">USE 4036661 WIRE.</text>
<text x="126" y="874" class="b">12.</text>
<text x="126" y="887" class="b">13.</text><text x="137" y="887" class="n b" textLength="80" lengthAdjust="spacingAndGlyphs">TERMINATE WITH 19B209260P102.</text>
</g>
</svg>
